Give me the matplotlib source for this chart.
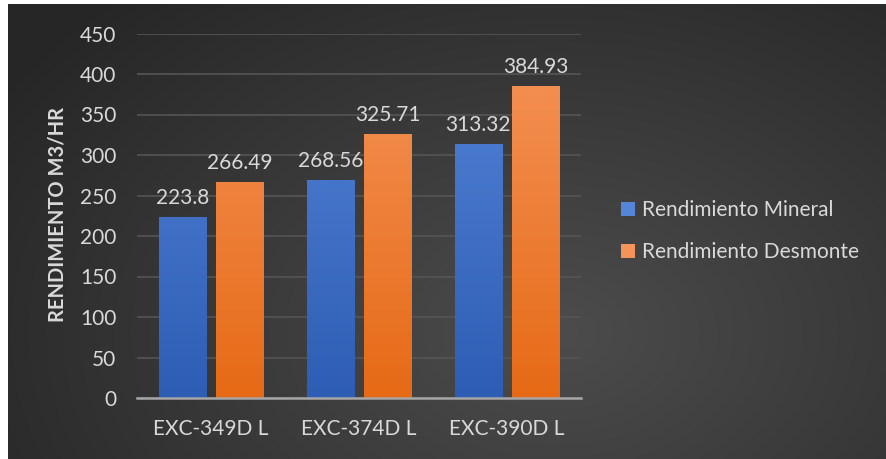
import numpy as np
import matplotlib
matplotlib.use("Agg")
import matplotlib.pyplot as plt
from matplotlib.colors import LinearSegmentedColormap

categories = ["EXC-349D L", "EXC-374D L", "EXC-390D L"]
mineral = [223.8, 268.56, 313.32]
desmonte = [266.49, 325.71, 384.93]
series_names = ["Rendimiento Mineral", "Rendimiento Desmonte"]
yticks = [0, 50, 100, 150, 200, 250, 300, 350, 400, 450]

plt.rcParams['font.family'] = ['Lato', 'DejaVu Sans']
W, H = 887, 459
FS = 15
fig = plt.figure(figsize=(W/100, H/100), dpi=100, facecolor='white')

# background gradient panel
bg = fig.add_axes([8/W, 0, 878/W, 455/H])
bg.set_axis_off()
ny, nx = 200, 400
yy, xx = np.mgrid[0:ny, 0:nx]
u = xx / nx
v = yy / ny
cx, cy = 0.62, 0.72
d = np.sqrt(((u - cx) / 0.75) ** 2 + ((v - cy) / 1.0) ** 2)
d = np.clip(d, 0, 1)
val = 0.30 - 0.15 * d
val = np.clip(val, 0.145, 0.30)
bg.imshow(np.dstack([val, val, val]), aspect='auto', extent=[0, 1, 0, 1], origin='upper')
bg.set_xlim(0, 1); bg.set_ylim(0, 1)

ax = fig.add_axes([137/W, (H-398)/H, (581-137)/W, (398-33.5)/H])
ax.patch.set_alpha(0)
x = np.arange(len(categories))
bw = 0.32
gap = 0.068
pos1 = x - (bw + gap) / 2
pos2 = x + (bw + gap) / 2

def grad_bars(positions, values, top_col, bot_col, label):
    bars = ax.bar(positions, values, width=bw, color=top_col, label=label, zorder=3)
    cmap = LinearSegmentedColormap.from_list('g', [bot_col, top_col])
    for b in bars:
        x0 = b.get_x()
        w = b.get_width()
        im = ax.imshow(np.linspace(0, 1, 100).reshape(-1, 1), cmap=cmap, origin='lower',
                       extent=[x0, x0 + w, 0, 450], aspect='auto', zorder=3.5, vmin=0, vmax=1)
        im.set_clip_path(b)
    return bars

b1 = grad_bars(pos1, mineral, '#5585D8', '#2E5DB5', series_names[0])
b2 = grad_bars(pos2, desmonte, '#F5945A', '#E66A16', series_names[1])

for bars, vals in ((b1, mineral), (b2, desmonte)):
    for b, v in zip(bars, vals):
        ax.annotate(f"{v:g}", (b.get_x() + b.get_width()/2, v), xytext=(0, 6.5),
                    textcoords='offset points', ha='center', va='bottom',
                    color='#D9D9D9', fontsize=FS, zorder=5)

ax.set_xlim(-0.5, 2.5)
ax.set_ylim(0, 450)
ax.set_yticks(yticks)
ax.set_xticks(x)
ax.set_xticklabels(categories)
ax.tick_params(axis='both', length=0, colors='#D9D9D9', labelsize=FS)
ax.tick_params(axis='y', pad=15)
ax.tick_params(axis='x', pad=15)
ax.grid(axis='y', color='#555555', linewidth=1.2, zorder=0)
ax.set_axisbelow(True)
for s in ['top', 'right', 'left']:
    ax.spines[s].set_visible(False)
ax.spines['bottom'].set_color('#A6A6A6')
ax.spines['bottom'].set_linewidth(1.8)
ax.spines['bottom'].set_zorder(4)

fig.text(58/W, (H-215)/H, "RENDIMIENTO M3/HR", rotation=90, ha='center', va='center',
         color='#D9D9D9', fontsize=14.5, fontweight='bold')

leg = fig.legend(handles=[b1, b2], labels=series_names, loc='center left',
                 bbox_to_anchor=(621/W, (H-231)/H), frameon=False, fontsize=FS,
                 labelcolor='#D9D9D9', handlelength=0.65, handleheight=0.65,
                 handletextpad=0.35, labelspacing=1.05, borderpad=0, borderaxespad=0)

fig.savefig('out.png', dpi=100, facecolor='white')
